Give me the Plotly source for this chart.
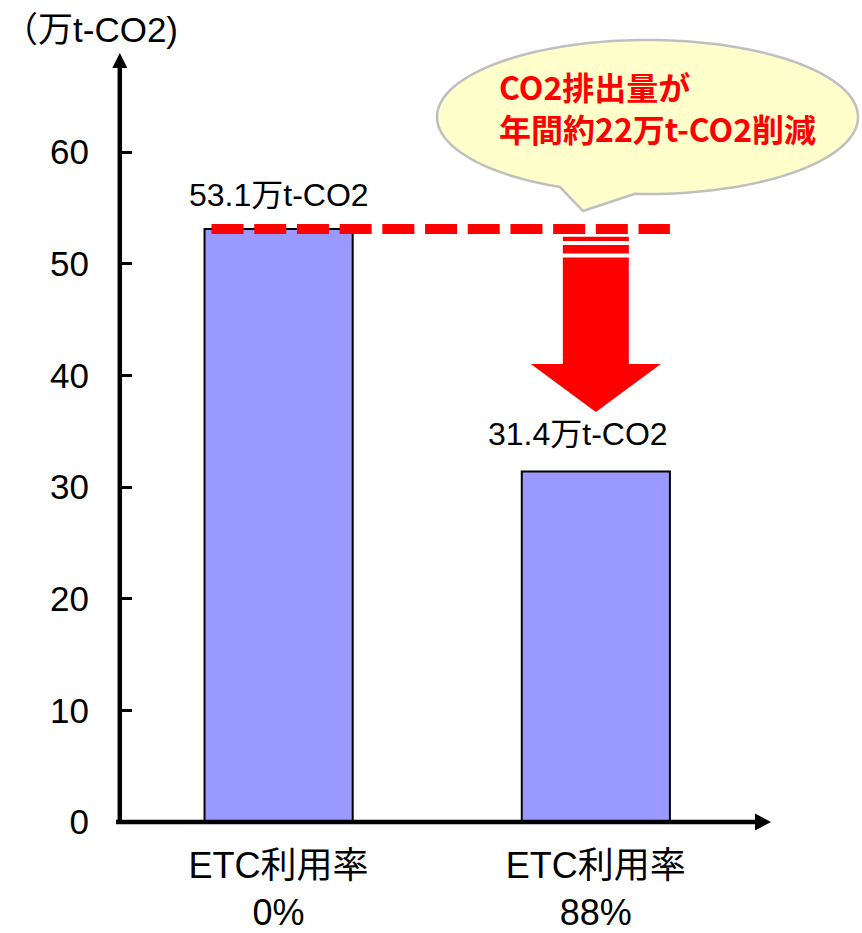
import numpy as np
import plotly.graph_objects as go

# ---- data ---------------------------------------------------------------
categories = ["ETC利用率<br>0%", "ETC利用率<br>88%"]
emissions = [53.1, 31.4]                      # 万t-CO2
value_labels = ["53.1万t-CO2", "31.4万t-CO2"]
y_ticks = [0, 10, 20, 30, 40, 50, 60]
unit_label = "（万t-CO2)"
callout_lines = ["CO2排出量が", "年間約22万t-CO2削減"]

# ---- geometry -----------------------------------------------------------
W, H = 862, 933
PL, PR, PT, PB = 120, 770, 53, 822            # plot area edges (px)
X_RANGE = [-0.5, 1.549]
Y_RANGE = [0, 68.87]
BAR_W = 0.467

BASE_FONT = "Liberation Sans, Arial, Noto Sans CJK JP, sans-serif"
CJK_FONT = "Noto Sans CJK JP, sans-serif"


def paper_x(p):
    return (p - PL) / (PR - PL)


def paper_y(p):
    return (PB - p) / (PB - PT)


def dx_px(n):
    return n * (X_RANGE[1] - X_RANGE[0]) / (PR - PL)


def dy_px(n):
    return n * (Y_RANGE[1] - Y_RANGE[0]) / (PB - PT)


xs = list(range(len(categories)))

fig = go.Figure()
fig.add_trace(go.Bar(
    x=xs, y=emissions, width=BAR_W,
    marker=dict(color="#9999FF", line=dict(color="#000000", width=2)),
    hoverinfo="skip",
))

shapes = []

# axis lines with arrowheads
shapes.append(dict(type="line", xref="paper", yref="paper",
                   x0=paper_x(116), x1=paper_x(756), y0=paper_y(822), y1=paper_y(822),
                   line=dict(color="black", width=4.5)))
shapes.append(dict(type="path", xref="paper", yref="paper",
                   path=f"M{paper_x(755)},{paper_y(813.5)} L{paper_x(771)},{paper_y(822)} "
                        f"L{paper_x(755)},{paper_y(830.5)} Z",
                   fillcolor="black", line=dict(width=0)))
shapes.append(dict(type="line", xref="paper", yref="paper",
                   x0=paper_x(119.8), x1=paper_x(119.8), y0=paper_y(824), y1=paper_y(67),
                   line=dict(color="black", width=4.5)))
shapes.append(dict(type="path", xref="paper", yref="paper",
                   path=f"M{paper_x(112.3)},{paper_y(68)} L{paper_x(119.8)},{paper_y(53)} "
                        f"L{paper_x(127.3)},{paper_y(68)} Z",
                   fillcolor="black", line=dict(width=0)))

# dashed reference line at the 0% level
shapes.append(dict(type="line", xref="x", yref="y",
                   x0=xs[0] - BAR_W / 2 + dx_px(7), x1=xs[1] + BAR_W / 2,
                   y0=emissions[0], y1=emissions[0],
                   line=dict(color="#FF0000", width=10, dash="32px,10.7px")))

# downward reduction arrow
cx, top = xs[1], emissions[0]
sw, hw = dx_px(33), dx_px(65)


def band(o0, o1):
    return (f"M{cx - sw},{top - dy_px(o0)} L{cx + sw},{top - dy_px(o0)} "
            f"L{cx + sw},{top - dy_px(o1)} L{cx - sw},{top - dy_px(o1)} Z ")


arrow_path = band(7.7, 12) + band(16, 24.3)
arrow_path += (f"M{cx - sw},{top - dy_px(28.3)} L{cx + sw},{top - dy_px(28.3)} "
               f"L{cx + sw},{top - dy_px(135)} L{cx + hw},{top - dy_px(135)} "
               f"L{cx},{top - dy_px(183)} L{cx - hw},{top - dy_px(135)} "
               f"L{cx - sw},{top - dy_px(135)} Z")
shapes.append(dict(type="path", xref="x", yref="y", path=arrow_path,
                   fillcolor="#FF0000", line=dict(width=0)))

# speech bubble (ellipse + tail)
ecx, ecy, erx, ery = 647.5, 117, 210.5, 77
tA = np.degrees(np.arccos((560 - ecx) / erx))
tB = np.degrees(np.arccos((635 - ecx) / erx))
ts = np.radians(np.linspace(tB, tA - 360, 160))
pts = [(ecx + erx * np.cos(t), ecy + ery * np.sin(t)) for t in ts]
pts.append((583, 211))
bubble = "M" + " L".join(f"{paper_x(a):.5f},{paper_y(b):.5f}" for a, b in pts) + " Z"
shapes.append(dict(type="path", xref="paper", yref="paper", path=bubble,
                   fillcolor="#FFFFCC", line=dict(color="#BFBFBF", width=2.5),
                   layer="above"))

annotations = []
# value labels above bars
shifts = [(0, 34), (-18, 37)]
for xv, v, lab, (xs_, ys_) in zip(xs, emissions, value_labels, shifts):
    annotations.append(dict(x=xv, y=v, xref="x", yref="y", text=lab, showarrow=False,
                            xanchor="center", yanchor="middle", xshift=xs_, yshift=ys_,
                            font=dict(family=BASE_FONT, size=32, color="black")))

# unit label
annotations.append(dict(x=paper_x(1), y=paper_y(29), xref="paper", yref="paper",
                        text=unit_label, showarrow=False, xanchor="left", yanchor="middle",
                        font=dict(family=BASE_FONT, size=35, color="black")))

# callout text
annotations.append(dict(x=paper_x(497), y=paper_y(107), xref="paper", yref="paper",
                        text="<br>".join(f"<b>{s}</b>" for s in callout_lines),
                        showarrow=False, xanchor="left", yanchor="middle", align="left",
                        font=dict(family=CJK_FONT, size=32, color="#FF0000")))

fig.update_layout(
    width=W, height=H,
    margin=dict(l=PL, r=W - PR, t=PT, b=H - PB, pad=0),
    paper_bgcolor="white", plot_bgcolor="white",
    showlegend=False,
    shapes=shapes, annotations=annotations,
    font=dict(family=BASE_FONT, color="black"),
    xaxis=dict(range=X_RANGE, tickvals=xs, ticktext=categories, showgrid=False,
               zeroline=False, showline=False, ticks="", automargin=False,
               tickfont=dict(size=36, family=BASE_FONT, color="black"),
               ticklabelstandoff=19, fixedrange=True),
    yaxis=dict(range=Y_RANGE, tickvals=y_ticks, showgrid=False, zeroline=False,
               showline=False, ticks="inside", ticklen=12, tickwidth=3, tickcolor="black",
               automargin=False, tickfont=dict(size=35, family=BASE_FONT, color="black"),
               ticklabelstandoff=30, fixedrange=True),
)

fig.write_html("out.html")
